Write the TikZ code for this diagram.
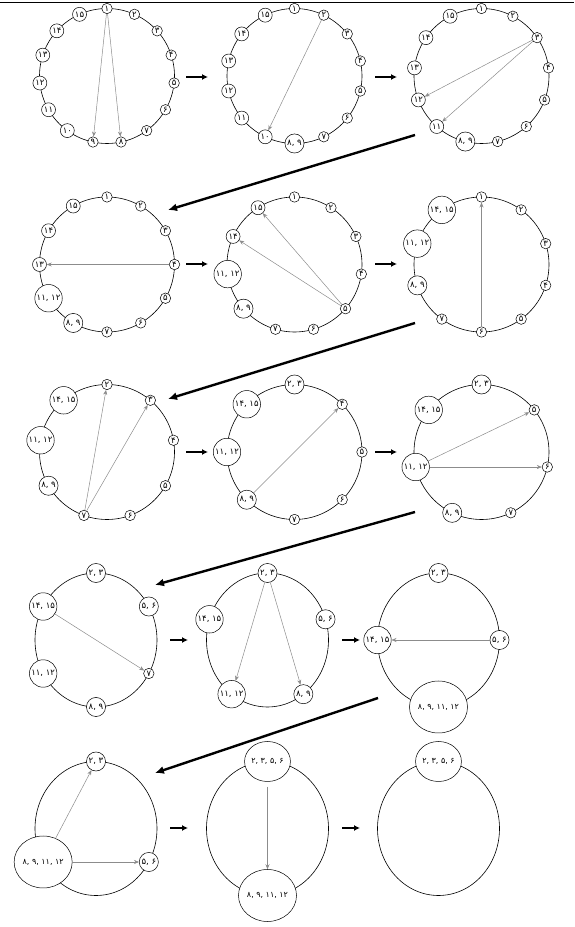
\documentclass[tikz,border=0pt]{standalone}
\usepackage{fontspec}
\usetikzlibrary{arrows.meta,shapes.geometric}
\newfontfamily\fadigits{DejaVu Sans}

\tikzset{
  num/.style={draw, circle, fill=white, inner sep=1.2pt, line width=0.5pt,
    font=\fadigits\fontsize{8.5}{9}\selectfont},
  bignum/.style={num, ellipse, inner sep=0pt, minimum width=46pt, minimum height=52pt,
    font=\fadigits\fontsize{8}{9}\selectfont},
  midnum/.style={num, ellipse, inner sep=0pt, minimum width=37pt, minimum height=40pt,
    font=\fadigits\fontsize{8}{9}\selectfont},
  ring/.style={line width=0.6pt},
  move/.style={-{Stealth[length=5pt,width=4pt]}, black!45, line width=0.5pt},
  nextarrow/.style={-{Latex[length=6pt,width=6pt]}, line width=1.6pt},
  rowarrow/.style={-{Latex[length=9pt,width=8pt]}, line width=2.4pt},
}

\begin{document}
\begin{tikzpicture}[x=1pt,y=1pt]
\useasboundingbox (0,0) rectangle (574,927);
\draw[line width=0.6pt] (0,925) -- (574,925);

% row 1
\begin{scope}[shift={(107,851)}]
  \draw[ring] (0,0) circle (67.5);
  \foreach \lab [count=\i from 0] in {۱,۲,۳,۴,۵,۶,۷,۸,۹,۱۰,۱۱,۱۲,۱۳,۱۴,۱۵}
    \node[num] (a\i) at (90-24*\i:67.5) {\lab};
\end{scope}
\draw[move] (a0) -- (a8);
\draw[move] (a0) -- (a7);

\begin{scope}[shift={(294.5,851)}]
  \draw[ring] (0,0) circle (67.5);
  \foreach \lab [count=\i from 0] in {۱,۲,۳,۴,۵,۶,۷,{۸, ۹},۱۰,۱۱,۱۲,۱۳,۱۴,۱۵}
    \node[num] (b\i) at (90-360/14*\i:67.5) {\lab};
\end{scope}
\draw[move] (b1) -- (b8);

\begin{scope}[shift={(481.5,851)}]
  \draw[ring] (0,0) circle (67.5);
  \foreach \lab [count=\i from 0] in {۱,۲,۳,۴,۵,۶,۷,{۸, ۹},۱۱,۱۲,۱۳,۱۴,۱۵}
    \node[num] (c\i) at (90-360/13*\i:67.5) {\lab};
\end{scope}
\draw[move] (c2) -- (c9);
\draw[move] (c2) -- (c8);

% row 2
\begin{scope}[shift={(107,662.5)}]
  \draw[ring] (0,0) circle (67.5);
  \foreach \lab [count=\i from 0] in {۱,۲,۳,۴,۵,۶,۷,{۸, ۹},{۱۱, ۱۲},۱۳,۱۴,۱۵}
    \node[num] (d\i) at (90-30*\i:67.5) {\lab};
\end{scope}
\draw[move] (d3) -- (d9);

\begin{scope}[shift={(294.5,662.5)}]
  \draw[ring] (0,0) circle (67.5);
  \foreach \lab [count=\i from 0] in {۱,۲,۳,۴,۵,۶,۷,{۸, ۹},{۱۱, ۱۲},۱۴,۱۵}
    \node[num] (e\i) at (90-360/11*\i:67.5) {\lab};
\end{scope}
\draw[move] (e4) -- (e9);
\draw[move] (e4) -- (e10);

\begin{scope}[shift={(481.5,662.5)}]
  \draw[ring] (0,0) circle (67.5);
  \foreach \lab [count=\i from 0] in {۱,۲,۳,۴,۵,۶,۷,{۸, ۹},{۱۱, ۱۲},{۱۴, ۱۵}}
    \node[num] (f\i) at (90-36*\i:67.5) {\lab};
\end{scope}
\draw[move] (f5) -- (f0);

% row 3
\begin{scope}[shift={(107,475)}]
  \draw[ring] (0,0) circle (67.5);
  \foreach \lab [count=\i from 0] in {۲,۳,۴,۵,۶,۷,{۸, ۹},{۱۱, ۱۲},{۱۴, ۱۵}}
    \node[num] (g\i) at (90-40*\i:67.5) {\lab};
\end{scope}
\draw[move] (g5) -- (g0);
\draw[move] (g5) -- (g1);

\begin{scope}[shift={(294.5,475)}]
  \draw[ring] (0,0) circle (67.5);
  \foreach \lab [count=\i from 0] in {{۲, ۳},۴,۵,۶,۷,{۸, ۹},{۱۱, ۱۲},{۱۴, ۱۵}}
    \node[num] (h\i) at (90-45*\i:67.5) {\lab};
\end{scope}
\draw[move] (h5) -- (h1);

\begin{scope}[shift={(481.5,475)}]
  \draw[ring] (0,0) circle (67.5);
  \foreach \lab [count=\i from 0] in {{۲, ۳},۵,۶,۷,{۸, ۹},{۱۱, ۱۲},{۱۴, ۱۵}}
    \node[num] (i\i) at (90-360/7*\i:67.5) {\lab};
\end{scope}
\draw[move] (i5) -- (i1);
\draw[move] (i5) -- (i2);

% row 4
\begin{scope}[shift={(96,287)}]
  \draw[ring] (0,0) ellipse (61 and 67);
  \foreach \lab [count=\i from 0] in {{۲, ۳},{۵, ۶},۷,{۸, ۹},{۱۱, ۱۲},{۱۴, ۱۵}}
    \node[num] (j\i) at (90-60*\i:61 and 67) {\lab};
\end{scope}
\draw[move] (j5) -- (j2);

\begin{scope}[shift={(267.5,287)}]
  \draw[ring] (0,0) ellipse (61 and 67);
  \foreach \lab [count=\i from 0] in {{۲, ۳},{۵, ۶},{۸, ۹},{۱۱, ۱۲},{۱۴, ۱۵}}
    \node[num] (k\i) at (90-72*\i:61 and 67) {\lab};
\end{scope}
\draw[move] (k0) -- (k3);
\draw[move] (k0) -- (k2);

\begin{scope}[shift={(438.5,287)}]
  \draw[ring] (0,0) ellipse (61 and 67);
  \node[num] (l0) at (90:61 and 67) {۲, ۳};
  \node[num] (l1) at (0:61 and 67) {۵, ۶};
  \node[bignum] (l2) at (-90:61 and 67) {۸, ۹, ۱۱, ۱۲};
  \node[num] (l3) at (180:61 and 67) {۱۴, ۱۵};
\end{scope}
\draw[move] (l1) -- (l3);

% row 5
\begin{scope}[shift={(96,98.5)}]
  \draw[ring] (0,0) ellipse (61 and 67);
  \node[num] (m0) at (90:61 and 67) {۲, ۳};
  \node[num] (m1) at (-30:61 and 67) {۵, ۶};
  \node[bignum] (m2) at (-150:61 and 67) {۸, ۹, ۱۱, ۱۲};
\end{scope}
\draw[move] (m2) -- (m0);
\draw[move] (m2) -- (m1);

\begin{scope}[shift={(267.5,98.5)}]
  \draw[ring] (0,0) ellipse (61 and 67);
  \node[midnum] (n0) at (90:61 and 67) {۲, ۳, ۵, ۶};
  \node[bignum] (n1) at (-90:61 and 67) {۸, ۹, ۱۱, ۱۲};
\end{scope}
\draw[move, shorten <=5pt] (n0) -- (n1);

\begin{scope}[shift={(438.5,98.5)}]
  \draw[ring] (0,0) ellipse (61 and 67);
  \node[midnum] (o0) at (90:61 and 67) {۲, ۳, ۵, ۶};
\end{scope}

% arrows between panels
\foreach \y/\xa/\xb/\xc/\xd [count=\r] in {850/186/208/375/397, 663/186/208/375/397,
    475/186/208/375/397, 287/170/188/342/360, 99/170/188/342/360} {
  \coordinate (go\r a) at (\xa,\y);
  \coordinate (to\r a) at (\xb,\y);
  \coordinate (go\r b) at (\xc,\y);
  \coordinate (to\r b) at (\xd,\y);
  \draw[nextarrow] (go\r a) -- (to\r a);
  \draw[nextarrow] (go\r b) -- (to\r b);
}
\foreach \xa/\ya/\xb/\yb [count=\r] in {415/792/168/717, 415/604/168/528,
    415/415/155/342, 378/229/155/154} {
  \coordinate (wrap\r) at (\xa,\ya);
  \coordinate (land\r) at (\xb,\yb);
  \draw[rowarrow] (wrap\r) -- (land\r);
}
\end{tikzpicture}
\end{document}
